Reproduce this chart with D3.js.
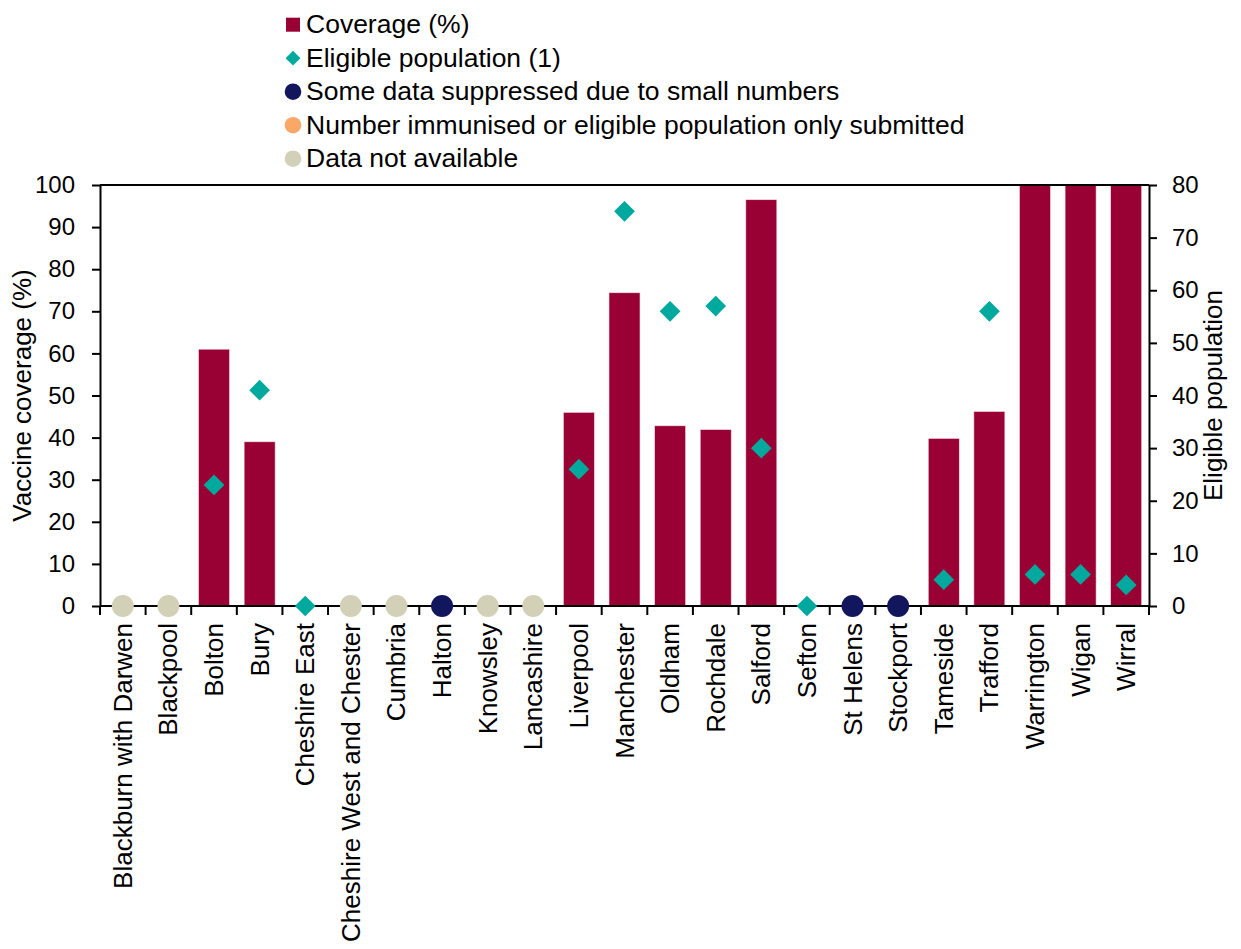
<!DOCTYPE html>
<html>
<head>
<meta charset="utf-8">
<script src="https://cdn.jsdelivr.net/npm/d3@7"></script>
<style>
body{margin:0;background:#fff;}
text{font-family:Arial,"Liberation Sans",sans-serif;fill:#000;}
</style>
</head>
<body>
<script>
var svg_width=1241;
var svg_height=949;

var areas=["Blackburn with Darwen","Blackpool","Bolton","Bury","Cheshire East","Cheshire West and Chester","Cumbria","Halton","Knowsley","Lancashire","Liverpool","Manchester","Oldham","Rochdale","Salford","Sefton","St Helens","Stockport","Tameside","Trafford","Warrington","Wigan","Wirral"];
// coverage %, null = no bar
var coverage=[null,null,61,39,null,null,null,null,null,null,46,74.4,42.8,41.9,96.5,null,null,null,39.8,46.2,100,100,100];
// eligible population, null = no point
var eligible=[null,null,23,41,0,null,null,null,null,null,26,75,56,57,30,0,null,null,5,56,6,6,4];
// data status: n = data not available, s = some data suppressed
var dataStatus=["n","n","","","","n","n","s","n","n","","","","","","","s","s","","","","",""];

var leftTicks=[0,10,20,30,40,50,60,70,80,90,100];
var rightTicks=[0,10,20,30,40,50,60,70,80];

var legendItems=[
  {label:"Coverage (%)",shape:"square",color:"#990033"},
  {label:"Eligible population (1)",shape:"diamond",color:"#00a99d"},
  {label:"Some data suppressed due to small numbers",shape:"circle",color:"#12165c"},
  {label:"Number immunised or eligible population only submitted",shape:"circle",color:"#f9a868"},
  {label:"Data not available",shape:"circle",color:"#d3d0b8"}
];
var statusColor={n:"#d3d0b8",s:"#12165c"};

var plotL=100, plotR=1149, plotT=185, plotB=606;

var svg=d3.select("body")
  .append("svg")
  .attr("width",svg_width)
  .attr("height",svg_height);

var x=d3.scaleBand()
  .domain(areas)
  .range([plotL,plotR])
  .paddingInner(0)
  .paddingOuter(0);

var yL=d3.scaleLinear().domain([0,100]).range([plotB,plotT]);
var yR=d3.scaleLinear().domain([0,80]).range([plotB,plotT]);

var barW=31;
svg.selectAll("rect.bar")
  .data(areas.filter(function(d,i){return coverage[i]!=null;}))
  .enter()
  .append("rect")
  .attr("class","bar")
  .attr("x",function(d){return x(d)+x.bandwidth()/2-barW/2;})
  .attr("y",function(d){return yL(coverage[areas.indexOf(d)]);})
  .attr("width",barW)
  .attr("height",function(d){return plotB-yL(coverage[areas.indexOf(d)]);})
  .attr("fill","#990033")
  .attr("stroke","#f3dfe5")
  .attr("stroke-width",0.6);

// top border
svg.append("line")
  .attr("x1",plotL).attr("x2",plotR)
  .attr("y1",plotT).attr("y2",plotT)
  .attr("stroke","#000").attr("stroke-width",2);

// axes
var leftAxis=d3.axisLeft(yL).tickValues(leftTicks).tickSize(8).tickPadding(17).tickSizeOuter(0);
svg.append("g")
  .attr("transform","translate("+plotL+",0)")
  .call(leftAxis)
  .call(function(g){
    g.select(".domain").attr("stroke-width",2);
    g.selectAll(".tick line").attr("stroke-width",2);
    g.selectAll("text").attr("font-size","24px").attr("fill","#000").attr("font-family","Arial, 'Liberation Sans', sans-serif");
  });

var rightAxis=d3.axisRight(yR).tickValues(rightTicks).tickSize(8).tickPadding(15).tickSizeOuter(0);
svg.append("g")
  .attr("transform","translate("+plotR+",0)")
  .call(rightAxis)
  .call(function(g){
    g.select(".domain").attr("stroke-width",2);
    g.selectAll(".tick line").attr("stroke-width",2);
    g.selectAll("text").attr("font-size","24px").attr("fill","#000").attr("font-family","Arial, 'Liberation Sans', sans-serif");
  });

// bottom axis line with ticks at category boundaries
svg.append("line")
  .attr("x1",plotL).attr("x2",plotR)
  .attr("y1",plotB).attr("y2",plotB)
  .attr("stroke","#000").attr("stroke-width",2);
svg.selectAll("line.xtick")
  .data(areas.concat(["end"]))
  .enter()
  .append("line")
  .attr("class","xtick")
  .attr("x1",function(d,i){return plotL+i*x.bandwidth();})
  .attr("x2",function(d,i){return plotL+i*x.bandwidth();})
  .attr("y1",plotB)
  .attr("y2",plotB+9)
  .attr("stroke","#000").attr("stroke-width",2);

svg.selectAll("text.xlab")
  .data(areas)
  .enter()
  .append("text")
  .attr("class","xlab")
  .text(function(d){return d;})
  .attr("text-anchor","end")
  .attr("transform",function(d){
    return "translate("+(x(d)+x.bandwidth()/2+9)+","+(plotB+17)+") rotate(-90)";
  })
  .attr("font-size","26px");

// status circles
svg.selectAll("circle.status")
  .data(areas.filter(function(d,i){return dataStatus[i]!="";}))
  .enter()
  .append("circle")
  .attr("class","status")
  .attr("cx",function(d){return x(d)+x.bandwidth()/2;})
  .attr("cy",yL(0))
  .attr("r",11)
  .attr("fill",function(d){return statusColor[dataStatus[areas.indexOf(d)]];});

// eligible population diamonds
svg.selectAll("path.elig")
  .data(areas.filter(function(d,i){return eligible[i]!=null;}))
  .enter()
  .append("path")
  .attr("class","elig")
  .attr("d",d3.symbol().type(d3.symbolSquare).size(215))
  .attr("transform",function(d){
    return "translate("+(x(d)+x.bandwidth()/2)+","+yR(eligible[areas.indexOf(d)])+") rotate(45)";
  })
  .attr("fill","#00a99d");

// axis titles
svg.append("text")
  .text("Vaccine coverage (%)")
  .attr("text-anchor","middle")
  .attr("transform","translate(31,"+((plotT+plotB)/2)+") rotate(-90)")
  .attr("font-size","26px");
svg.append("text")
  .text("Eligible population")
  .attr("text-anchor","middle")
  .attr("transform","translate(1222,"+((plotT+plotB)/2)+") rotate(-90)")
  .attr("font-size","26px");

// legend
var lg=svg.selectAll("g.legend")
  .data(legendItems)
  .enter()
  .append("g")
  .attr("class","legend")
  .attr("transform",function(d,i){return "translate(293,"+(24.7+i*33.5)+")";});

lg.each(function(d){
  var g=d3.select(this);
  if(d.shape=="square"){
    g.append("rect").attr("x",-7).attr("y",-7).attr("width",14).attr("height",14).attr("fill",d.color);
  } else if(d.shape=="diamond"){
    g.append("path").attr("d",d3.symbol().type(d3.symbolSquare).size(110)).attr("transform","rotate(45)").attr("fill",d.color);
  } else {
    g.append("circle").attr("r",8.3).attr("fill",d.color);
  }
});
lg.append("text")
  .text(function(d){return d.label;})
  .attr("x",13)
  .attr("y",8.5)
  .attr("font-size","26.5px");
</script>
</body>
</html>
